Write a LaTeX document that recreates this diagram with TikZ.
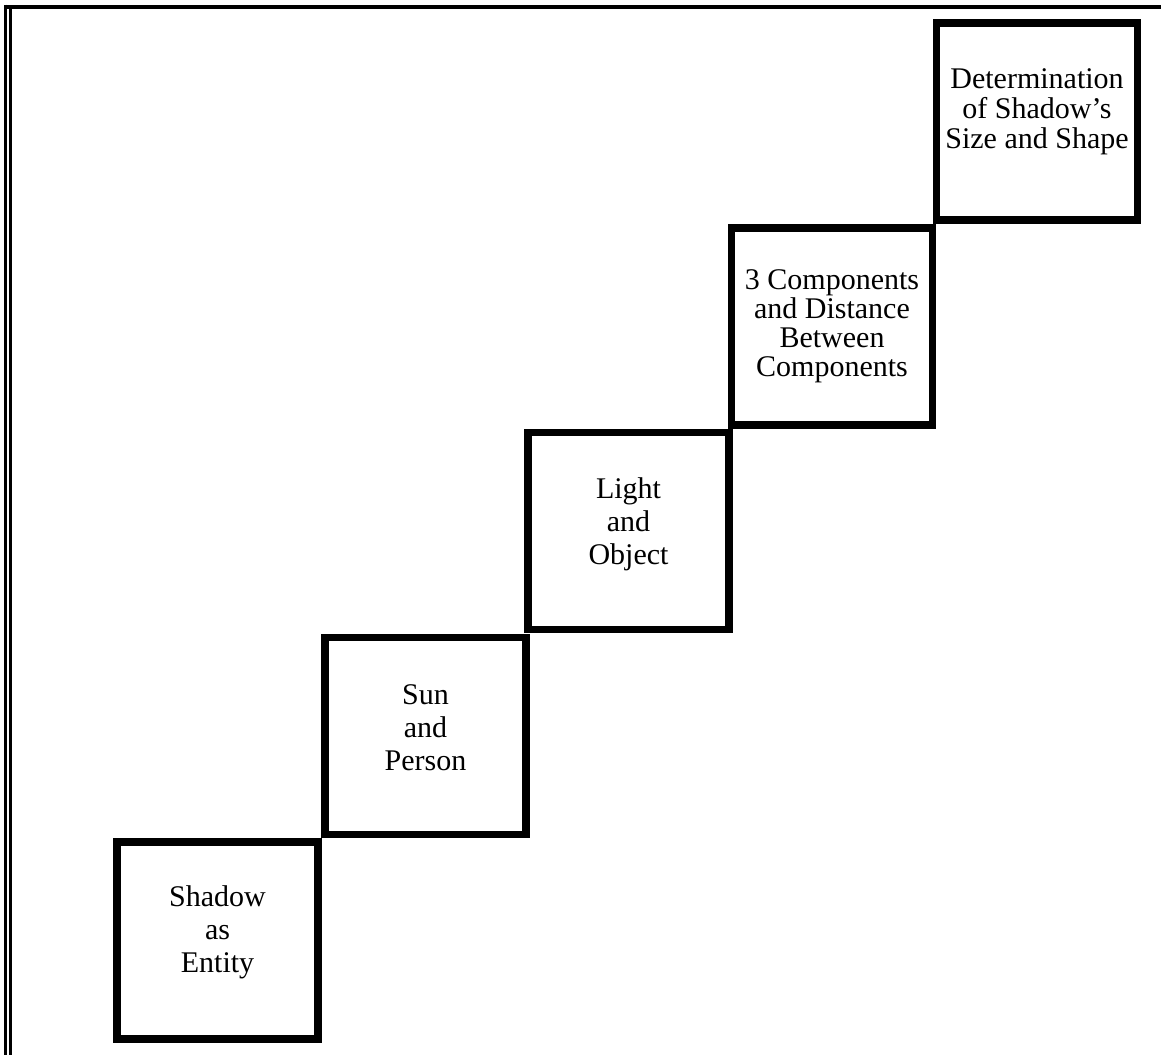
\documentclass[tikz,border=0pt]{standalone}
\usepackage{fontspec}
\setmainfont{Liberation Serif}
\begin{document}
\begin{tikzpicture}[x=1pt,y=-1pt,
  stepbox/.style={draw=black,line width=7.5pt,minimum width=201pt,minimum height=197pt,inner sep=0pt,fill=white},
  steptext/.style={align=center,inner sep=0pt,font=\fontsize{30}{33}\selectfont}]
\useasboundingbox[fill=white] (0,0) rectangle (1161,1055);
% frame lines
\draw[line width=4pt] (4,6.5) -- (1161,6.5);
\draw[line width=3.5pt] (5.5,4.5) -- (5.5,1055);
\draw[line width=2.5pt] (10.5,8) -- (10.5,1055);
% boxes
\node[stepbox] (b1) at (217.5,940.5) {};
\node[stepbox] (b2) at (425.5,736) {};
\node[stepbox] (b3) at (628.5,531) {};
\node[stepbox] (b4) at (832,326.5) {};
\node[stepbox] (b5) at (1037,121.5) {};
% texts
\node[steptext] (t1) at ([yshift=8pt]b1.center) {Shadow\\as\\Entity};
\node[steptext] (t2) at ([yshift=8pt]b2.center) {Sun\\and\\Person};
\node[steptext] (t3) at ([yshift=7pt]b3.center) {Light\\and\\Object};
\node[steptext,font=\fontsize{30}{29}\selectfont] (t4) at ([yshift=0pt]b4.center) {3 Components\\and Distance\\Between\\Components};
\node[steptext,font=\fontsize{30}{30}\selectfont] (t5) at ([yshift=10pt]b5.center) {Determination\\of Shadow’s\\Size and Shape};
\end{tikzpicture}
\end{document}
